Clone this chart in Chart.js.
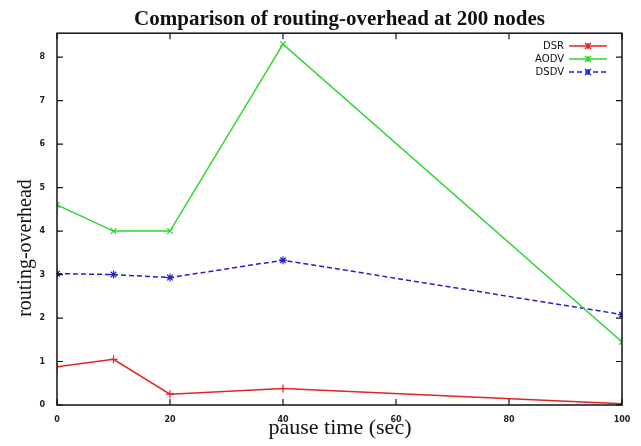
<!DOCTYPE html>
<html>
<head>
<meta charset="utf-8">
<script src="https://cdn.jsdelivr.net/npm/chart.js@4"></script>
<style>
  body{margin:0;background:#fff;}
  #wrap{width:641px;height:446px;}
</style>
</head>
<body>
<div id="wrap"><canvas id="grafico"></canvas></div>
<script>
// datos
var pausas = [0, 10, 20, 40, 100];
var dsr  = [0.88, 1.05, 0.25, 0.38, 0.03];
var aodv = [4.6, 4.0, 4.0, 8.3, 1.45];
var dsdv = [3.02, 3.0, 2.93, 3.33, 2.08];
var ticksX = [0, 20, 40, 60, 80, 100];
var ticksY = [0, 1, 2, 3, 4, 5, 6, 7, 8];

function puntos(arr){
    return arr.map((v, i) => ({x: pausas[i], y: v}));
}

// ticks hacia adentro estilo gnuplot + borde
var marcoPlugin = {
    id: 'marco',
    afterDatasetsDraw(chart){
        var ctx = chart.ctx, a = chart.chartArea;
        var sx = chart.scales.x, sy = chart.scales.y;
        ctx.save();
        ctx.strokeStyle = '#111';
        ctx.lineWidth = 1.5;
        ctx.strokeRect(a.left, a.top, a.right - a.left, a.bottom - a.top);
        ctx.lineWidth = 1.2;
        ctx.beginPath();
        ticksX.forEach(t => {
            var px = sx.getPixelForValue(t);
            ctx.moveTo(px, a.bottom); ctx.lineTo(px, a.bottom - 6);
            ctx.moveTo(px, a.top); ctx.lineTo(px, a.top + 6);
        });
        ticksY.forEach(t => {
            var py = sy.getPixelForValue(t);
            ctx.moveTo(a.left, py); ctx.lineTo(a.left + 6, py);
            ctx.moveTo(a.right, py); ctx.lineTo(a.right - 6, py);
        });
        ctx.stroke();
        ctx.restore();
    }
};

// titulos de ejes (posicion como en la figura original)
var ejesPlugin = {
    id: 'ejes',
    afterDraw(chart){
        var ctx = chart.ctx;
        ctx.save();
        ctx.fillStyle = '#111';
        ctx.textAlign = 'center';
        ctx.font = '22px "Liberation Serif", serif';
        ctx.textBaseline = 'alphabetic';
        ctx.fillText('pause time (sec)', 340, 434);
        ctx.translate(26, 248);
        ctx.rotate(-Math.PI / 2);
        ctx.font = '20px "Liberation Serif", serif';
        ctx.textBaseline = 'middle';
        ctx.fillText('routing-overhead', 0, 0);
        ctx.restore();
    }
};

// leyenda tipo gnuplot: texto a la izquierda, muestra de linea a la derecha
var leyendaPlugin = {
    id: 'leyenda',
    afterDraw(chart){
        var ctx = chart.ctx;
        ctx.save();
        ctx.font = '10px "DejaVu Sans", sans-serif';
        ctx.textAlign = 'right';
        ctx.textBaseline = 'middle';
        chart.data.datasets.forEach((ds, i) => {
            var y = 46 + i * 13;
            ctx.fillStyle = '#111';
            ctx.fillText(ds.label, 564, y);
            ctx.strokeStyle = ds.borderColor;
            ctx.lineWidth = 1.4;
            ctx.setLineDash(ds.borderDash || []);
            ctx.beginPath();
            ctx.moveTo(569, y); ctx.lineTo(607, y);
            ctx.stroke();
            ctx.setLineDash([]);
            ctx.beginPath();
            ctx.moveTo(585, y - 3); ctx.lineTo(591, y + 3);
            ctx.moveTo(585, y + 3); ctx.lineTo(591, y - 3);
            ctx.moveTo(588, y - 3); ctx.lineTo(588, y + 3);
            ctx.stroke();
        });
        ctx.restore();
    }
};

new Chart(document.getElementById('grafico'), {
    type: 'line',
    data: {
        datasets: [
            {
                label: 'DSR',
                data: puntos(dsr),
                borderColor: 'rgb(225,35,35)',
                backgroundColor: 'rgb(225,35,35)',
                borderWidth: 1.5,
                pointStyle: 'cross',
                pointRadius: 4,
                pointBorderWidth: 1.2
            },
            {
                label: 'AODV',
                data: puntos(aodv),
                borderColor: 'rgb(45,215,45)',
                backgroundColor: 'rgb(45,215,45)',
                borderWidth: 1.5,
                pointStyle: 'crossRot',
                pointRadius: 4,
                pointBorderWidth: 1.2
            },
            {
                label: 'DSDV',
                data: puntos(dsdv),
                borderColor: 'rgb(30,30,215)',
                backgroundColor: 'rgb(30,30,215)',
                borderWidth: 1.5,
                borderDash: [5, 3],
                pointStyle: 'star',
                pointRadius: 4,
                pointBorderWidth: 1.2
            }
        ]
    },
    options: {
        responsive: true,
        maintainAspectRatio: false,
        animation: false,
        layout: { padding: { top: 0, right: 19, left: 0, bottom: 0 } },
        plugins: {
            legend: { display: false },
            tooltip: { enabled: false },
            title: {
                display: true,
                fullSize: false,
                text: 'Comparison of routing-overhead at 200 nodes',
                font: { family: '"Liberation Serif", serif', size: 21, weight: 'bold' },
                color: '#111',
                padding: { top: 7, bottom: 1 }
            }
        },
        scales: {
            x: {
                type: 'linear',
                min: 0, max: 100,
                afterBuildTicks: s => { s.ticks = ticksX.map(v => ({value: v})); },
                afterFit: s => { s.height = 41; },
                grid: { display: false },
                border: { display: false },
                ticks: {
                    color: '#222',
                    font: { family: '"DejaVu Sans", sans-serif', size: 8, weight: 'bold' },
                    padding: 2
                }
            },
            y: {
                min: 0, max: 8.55,
                afterBuildTicks: s => { s.ticks = ticksY.map(v => ({value: v})); },
                afterFit: s => { s.width = 57; },
                grid: { display: false },
                border: { display: false },
                ticks: {
                    color: '#222',
                    font: { family: '"DejaVu Sans", sans-serif', size: 8, weight: 'bold' },
                    padding: 4
                }
            }
        }
    },
    plugins: [marcoPlugin, ejesPlugin, leyendaPlugin]
});
</script>
</body>
</html>
